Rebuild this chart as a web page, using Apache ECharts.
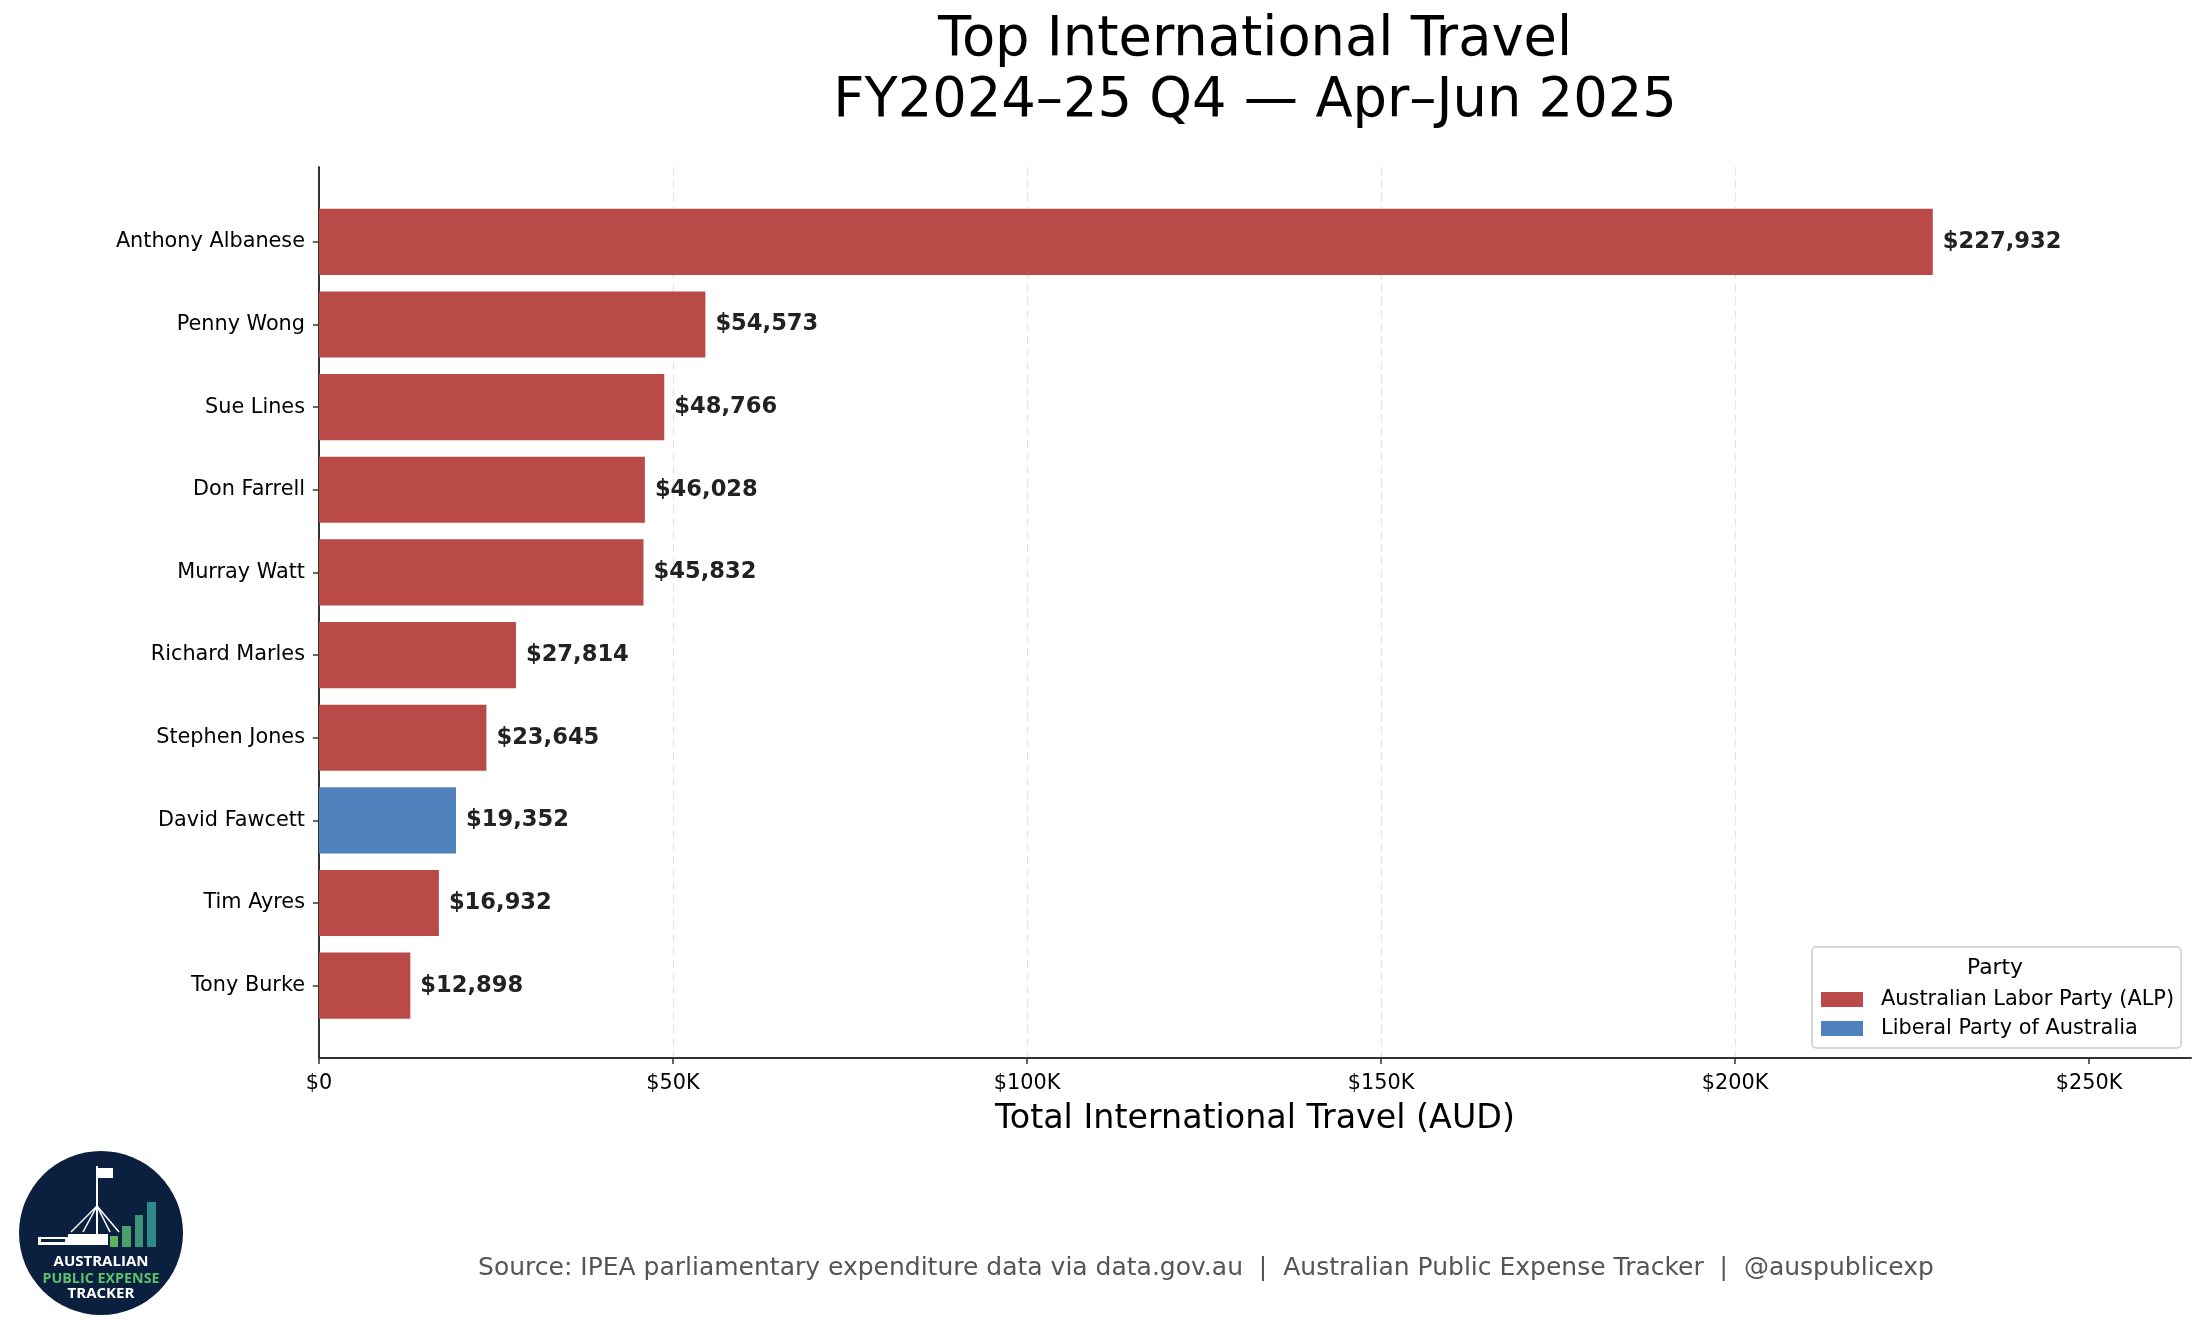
<!DOCTYPE html>
<html>
<head>
<meta charset="utf-8">
<script src="https://cdn.jsdelivr.net/npm/echarts@6/dist/echarts.min.js"></script>
<style>
html,body{margin:0;padding:0;background:#fff;}
#chart{width:2205px;height:1337px;}
</style>
</head>
<body>
<div id="chart"></div>
<script>
// ---- data ----
const names = ['Anthony Albanese','Penny Wong','Sue Lines','Don Farrell','Murray Watt','Richard Marles','Stephen Jones','David Fawcett','Tim Ayres','Tony Burke'];
const values = [227932,54573,48766,46028,45832,27814,23645,19352,16932,12898];
const parties = ['ALP','ALP','ALP','ALP','ALP','ALP','ALP','LIB','ALP','ALP'];
const partyNames = {ALP:'Australian Labor Party (ALP)', LIB:'Liberal Party of Australia'};
const xTicks = [0,50000,100000,150000,200000,250000];
const xTickLabels = ['$0','$50K','$100K','$150K','$200K','$250K'];
const xMax = 264400;

const FONT = 'DejaVu Sans';
const colors = {ALP:'#B94A48', LIB:'#4F81BD'};

const chart = echarts.init(document.getElementById('chart'));

function seriesFor(p){
  return {
    name: partyNames[p],
    type: 'bar',
    xAxisIndex: 1, yAxisIndex: 1,
    stack: 'all',
    barWidth: '80%',
    itemStyle: {color: colors[p]},
    label: {
      show: true, position: 'right', distance: 10,
      fontFamily: FONT, fontWeight: 'bold', fontSize: 22.6, color: '#222',
      formatter: (d) => '$' + Number(d.value).toLocaleString('en-US')
    },
    data: values.map((v,i) => parties[i] === p ? v : null)
  };
}

const option = {
  backgroundColor: '#fff',
  animation: false,
  title: [
    {text: 'Top International Travel\nFY2024–25 Q4 — Apr–Jun 2025', left: 1255, top: 10, textAlign: 'center', padding: 0,
     textStyle: {fontFamily: FONT, fontSize: 54.3, lineHeight: 61, fontWeight: 'normal', color: '#000'}},
    {text: 'Party', left: 1995, top: 957, textAlign: 'center', padding: 0, z: 20,
     textStyle: {fontFamily: FONT, fontSize: 21.8, fontWeight: 'normal', color: '#000'}},
    {text: 'Source: IPEA parliamentary expenditure data via data.gov.au  |  Australian Public Expense Tracker  |  @auspublicexp',
     left: 1206, top: 1256, textAlign: 'center', padding: 0,
     textStyle: {fontFamily: FONT, fontSize: 25, fontWeight: 'normal', color: '#555'}}
  ],
  legend: {
    orient: 'vertical', left: 1812, top: 947,
    padding: [42, 7, 9, 9],
    itemWidth: 42, itemHeight: 15, itemGap: 8,
    backgroundColor: 'rgba(255,255,255,0.8)',
    borderColor: '#cccccc', borderWidth: 1.5, borderRadius: 4,
    icon: 'rect',
    textStyle: {fontFamily: FONT, fontSize: 20.9, color: '#000', padding: [0,0,0,13]},
    data: [partyNames.ALP, partyNames.LIB]
  },
  grid: [
    {left: 319, right: 14, top: 167, bottom: 279, containLabel: false},
    {left: 319, right: 14, top: 200.5, bottom: 310, containLabel: false}
  ],
  xAxis: [
    {type: 'value', gridIndex: 0, min: 0, max: xMax, interval: 50000,
     name: 'Total International Travel (AUD)', nameLocation: 'middle', nameGap: 45,
     nameTextStyle: {fontFamily: FONT, fontSize: 33.3, color: '#000'},
     axisLine: {show: true, lineStyle: {color: '#333', width: 2}},
     axisTick: {show: true, length: 6, lineStyle: {color: '#333', width: 1.5}, customValues: xTicks},
     axisLabel: {show: true, margin: 15, fontFamily: FONT, fontSize: 20.8, color: '#000', customValues: xTicks,
                 formatter: (v) => { const i = xTicks.indexOf(v); return i >= 0 ? xTickLabels[i] : ''; }},
     splitLine: {show: true, showMinLine: false, showMaxLine: false, lineStyle: {color: '#e3e3e3', type: [8, 5], width: 1.2}}},
    {type: 'value', gridIndex: 1, min: 0, max: xMax, show: false, splitLine: {show: false}}
  ],
  yAxis: [
    {type: 'value', gridIndex: 0, min: 0, max: 1,
     axisLine: {show: true, lineStyle: {color: '#333', width: 2}},
     axisTick: {show: false}, axisLabel: {show: false}, splitLine: {show: false}},
    {type: 'category', gridIndex: 1, inverse: true, data: names,
     axisLine: {show: true, lineStyle: {color: '#333', width: 2}},
     axisTick: {show: true, alignWithLabel: true, length: 6, lineStyle: {color: '#333', width: 1.5}},
     axisLabel: {margin: 14, fontFamily: FONT, fontSize: 20.8, color: '#000'},
     splitLine: {show: false}}
  ],
  series: [seriesFor('ALP'), seriesFor('LIB')],
  graphic: [
    {type: 'group', left: 19, top: 1151, children: [
      {type: 'circle', shape: {cx: 82, cy: 83, r: 82}, style: {fill: '#0B1F3F'}},
      // flag & pole
      {type: 'rect', shape: {x: 78, y: 18, width: 16, height: 10}, style: {fill: '#ffffff'}},
      {type: 'rect', shape: {x: 77, y: 16, width: 2, height: 72}, style: {fill: '#ffffff'}},
      {type: 'line', shape: {x1: 78, y1: 56, x2: 52, y2: 82}, style: {stroke: '#fff', lineWidth: 1.5}},
      {type: 'line', shape: {x1: 78, y1: 56, x2: 64, y2: 82}, style: {stroke: '#fff', lineWidth: 1.5}},
      {type: 'line', shape: {x1: 78, y1: 56, x2: 91, y2: 82}, style: {stroke: '#fff', lineWidth: 1.5}},
      {type: 'line', shape: {x1: 78, y1: 56, x2: 100, y2: 82}, style: {stroke: '#fff', lineWidth: 1.5}},
      // building
      {type: 'rect', shape: {x: 19, y: 87, width: 30, height: 8}, style: {fill: '#ffffff'}},
      {type: 'rect', shape: {x: 49, y: 84, width: 40, height: 11}, style: {fill: '#ffffff'}},
      {type: 'rect', shape: {x: 22, y: 89, width: 24, height: 3}, style: {fill: '#0B1F3F'}},
      // bars
      {type: 'rect', shape: {x: 91, y: 86, width: 8, height: 11}, style: {fill: '#5DB45F'}},
      {type: 'rect', shape: {x: 103, y: 76, width: 9, height: 21}, style: {fill: '#4E9E6A'}},
      {type: 'rect', shape: {x: 116, y: 65, width: 8, height: 32}, style: {fill: '#3E9476'}},
      {type: 'rect', shape: {x: 128, y: 52, width: 9, height: 45}, style: {fill: '#2E8A86'}},
      {type: 'text', style: {text: 'AUSTRALIAN', x: 82, y: 112, align: 'center', verticalAlign: 'middle', fill: '#ffffff', font: 'bold 15px "Open Sans", "DejaVu Sans"'}},
      {type: 'text', style: {text: 'PUBLIC EXPENSE', x: 82, y: 129, align: 'center', verticalAlign: 'middle', fill: '#5CC16A', font: 'bold 14.3px "Open Sans", "DejaVu Sans"'}},
      {type: 'text', style: {text: 'TRACKER', x: 82, y: 144, align: 'center', verticalAlign: 'middle', fill: '#ffffff', font: 'bold 15px "Open Sans", "DejaVu Sans"'}}
    ]}
  ]
};
chart.setOption(option);
</script>
</body>
</html>
